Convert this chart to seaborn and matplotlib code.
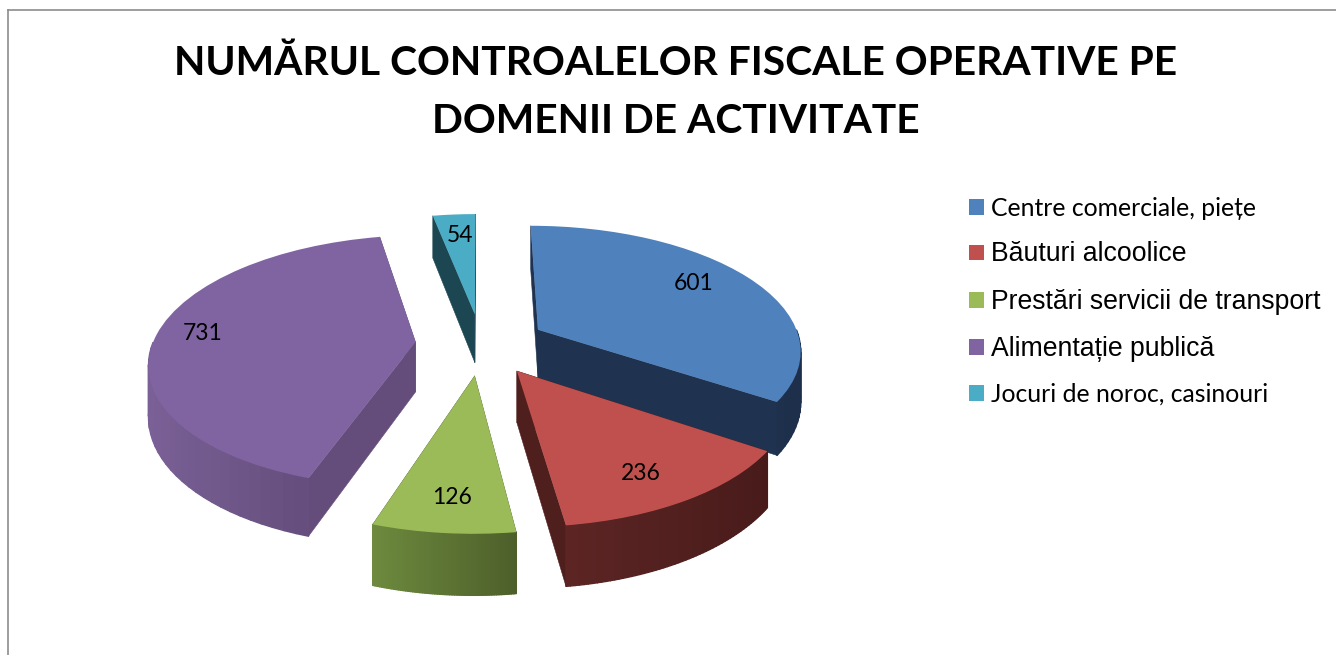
import numpy as np
import matplotlib
matplotlib.use("Agg")
import matplotlib.pyplot as plt
from matplotlib.collections import PolyCollection
from matplotlib.transforms import Transform
import seaborn as sns

# ---- data ----
categories = ["Centre comerciale, piețe", "Băuturi alcoolice",
              "Prestări servicii de transport", "Alimentație publică",
              "Jocuri de noroc, casinouri"]
values = [601, 236, 126, 731, 54]
title = "NUMĂRUL CONTROALELOR FISCALE OPERATIVE PE\nDOMENII DE ACTIVITATE"

# ---- styles ----
top_colors = ["#4f81bd", "#c0504d", "#9bbb59", "#8064a2", "#4bacc6"]
wall_colors = ["#1f3350", "#4f1f1e", "#5c7335", "#644d7a", "#1c4652"]
rim_light = ["#24395a", "#5c2524", "#6d8a3e", "#7a6096", "#1c4652"]
rim_dark = ["#1d2f4a", "#481b1a", "#4d5f2a", "#5a4570", "#1c4652"]
legend_fonts = ["Lato", "Liberation Sans", "Liberation Sans", "Liberation Sans", "Lato"]
legend_sizes = [17.8, 19.2, 19.2, 19.2, 17.8]
label_pos = [(694, 284), (641, 474), (452, 498), (203, 334), (460, 236)]

CX, CY, RX, RY, K, DEPTH = 481, 344, 263, 123.5, 0.15, 50


def project(u, v, z=0.0):
    d = 1 + K * np.asarray(v)
    return CX + RX * np.asarray(u) / d, CY - RY * np.asarray(v) / d + z * DEPTH / d


class Tilt(Transform):
    input_dims = output_dims = 2

    def transform_non_affine(self, xy):
        x, y = project(xy[:, 0], xy[:, 1])
        return np.column_stack([x, y])


sns.set_theme(style="white")
plt.rcParams["font.family"] = ["Lato", "DejaVu Sans"]
palette = sns.color_palette(top_colors)

fig = plt.figure(figsize=(13.36, 6.55), dpi=100, facecolor="white")
ax = fig.add_axes([8 / 1336, 0, 1328 / 1336, 645 / 655])

wedges, _ = ax.pie(values, explode=[0.25] * 5, startangle=90, counterclock=False,
                   colors=palette, frame=True, radius=1.0,
                   wedgeprops=dict(linewidth=0, edgecolor="none"))
ax.set_aspect("auto")
ax.set_xlim(8, 1336)
ax.set_ylim(655, 10)
ax.set_xticks([])
ax.set_yticks([])
for name, sp in ax.spines.items():
    sp.set_visible(name in ("left", "top"))
    sp.set_color("#8c8c8c")
    sp.set_linewidth(1.2)

tilt = Tilt()
paint_order = {4: 0, 3: 1, 0: 2, 1: 3, 2: 4}
for i, w in enumerate(wedges):
    z = paint_order[i] * 3 + 2
    w.set_transform(tilt + ax.transData)
    w.set_zorder(z + 2)
    cu, cv = w.center
    t = np.radians(np.linspace(w.theta1, w.theta2, 60))
    u, v = cu + w.r * np.cos(t), cv + w.r * np.sin(t)
    # radial walls
    polys = []
    for ue, ve in ((u[0], v[0]), (u[-1], v[-1])):
        a = np.column_stack(project(np.array([cu, ue]), np.array([cv, ve]), 0.0))
        b = np.column_stack(project(np.array([ue, cu]), np.array([ve, cv]), 1.0))
        polys.append(np.vstack([a, b]))
    ax.add_collection(PolyCollection(polys, facecolors=wall_colors[i],
                                     edgecolors=wall_colors[i], linewidths=0.4, zorder=z))
    # outer rim, shaded along the arc; only the part that faces the viewer
    x0, y0 = project(u, v, 0.0)
    x1, y1 = project(u, v, 1.0)
    f = (x0 - x0.min()) / max(x0.max() - x0.min(), 1)
    front = np.sin(t) < 0.0
    keep = [j for j in range(len(t) - 1) if front[j] and front[j + 1]]
    quads = [[(x0[j], y0[j]), (x0[j + 1], y0[j + 1]), (x1[j + 1], y1[j + 1]), (x1[j], y1[j])]
             for j in keep]
    c0 = np.array(matplotlib.colors.to_rgb(rim_light[i]))
    c1 = np.array(matplotlib.colors.to_rgb(rim_dark[i]))
    cols = [tuple(c0 + (c1 - c0) * f[j]) for j in keep]
    if quads:
        ax.add_collection(PolyCollection(quads, facecolors=cols, edgecolors=cols,
                                         linewidths=1.0, zorder=z + 1))
    ax.text(*label_pos[i], str(values[i]), ha="center", va="center", fontsize=16.5,
            color="black", family=["Lato"], zorder=30)

fig.text(676 / 1336, 1 - 92.5 / 655, title, ha="center", va="center", fontsize=29.3,
         fontweight="bold", color="black", linespacing=1.72)

leg = ax.legend(wedges, categories, loc="upper left", bbox_to_anchor=(969 / 1336, 1 - 197 / 655),
                bbox_transform=fig.transFigure, frameon=False, handlelength=0.6, handleheight=0.6,
                handletextpad=0.27, labelspacing=0.85, fontsize=18, borderpad=0, borderaxespad=0)
for txt, fam, sz in zip(leg.get_texts(), legend_fonts, legend_sizes):
    txt.set_family(fam)
    txt.set_fontsize(sz)
    txt.set_color("black")

fig.savefig("out.png", dpi=100, facecolor="white")
